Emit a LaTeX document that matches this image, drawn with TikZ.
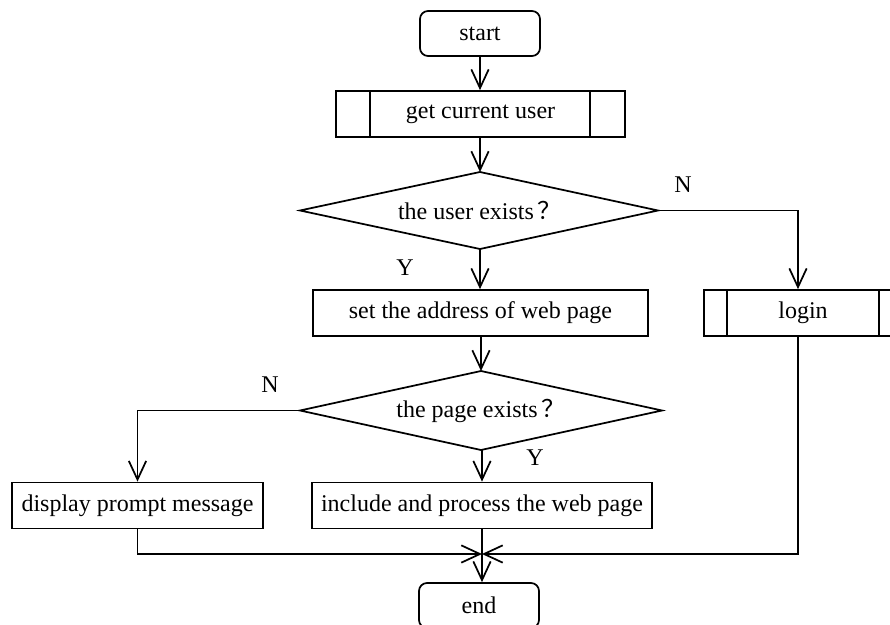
\documentclass[tikz,border=0pt]{standalone}
\usepackage{fontspec}
\setmainfont{Liberation Serif}
\newfontfamily\cjkq{Noto Sans CJK SC}
\usetikzlibrary{arrows.meta,calc}
\newcommand{\fq}{\kern3pt{\cjkq ？}}
\begin{document}
\begin{tikzpicture}[x=0.75pt,y=-0.75pt,
  every node/.style={font=\fontsize{18}{22}\selectfont},
  box/.style={draw,line width=1.3pt,rectangle,inner sep=0pt},
  term/.style={box,rounded corners=6pt,minimum width=90pt,minimum height=33.75pt},
  lbl/.style={inner sep=0pt},
  arr/.style={line width=1.3pt,-{Straight Barb[length=14pt,width=13pt,line width=1.3pt]}},
  ln/.style={line width=1.3pt}]
\useasboundingbox (0,0) rectangle (890,625);
\clip (0,0) rectangle (890,625);
% nodes
\node[term] (start) at (480,33.5) {start};
\node[box,minimum width=216.75pt,minimum height=34.5pt] (getuser) at (480.5,114) {get current user};
\node[inner sep=0pt] (d1) at (480,210.5) {the user exists\fq};
\node[box,minimum width=251.25pt,minimum height=34.5pt] (setaddr) at (480.5,313) {set the address of web page};
\node[box,minimum width=148.5pt,minimum height=34.5pt] (login) at (803,313) {login};
\node[inner sep=0pt] (d2) at (481,410.5) {the page exists\fq};
\node[box,minimum width=188.25pt,minimum height=34.5pt] (display) at (137.5,505.5) {display prompt message};
\node[box,minimum width=255pt,minimum height=34.5pt] (include) at (482,505.5) {include and process the web page};
\node[term] (end) at (479,605.5) {end};
% diamond corners
\coordinate (d1n) at (480,172);
\coordinate (d1s) at (480,249);
\coordinate (d1w) at (300,210.5);
\coordinate (d1e) at (658,210.5);
\coordinate (d2n) at (481,371);
\coordinate (d2s) at (481,450);
\coordinate (d2w) at (300,410.5);
\coordinate (d2e) at (662,410.5);
\draw[ln,line join=miter] (d1n) -- (d1e) -- (d1s) -- (d1w) -- cycle;
\draw[ln,line join=miter] (d2n) -- (d2e) -- (d2s) -- (d2w) -- cycle;
% labels
\node[lbl] (n1) at (683,185) {N};
\node[lbl] (y1) at (405,268) {Y};
\node[lbl] (n2) at (270,385) {N};
\node[lbl] (y2) at (535,458) {Y};
% subroutine inner lines
\draw[ln] ($(getuser.north west)+(35,0)$) -- ($(getuser.south west)+(35,0)$);
\draw[ln] ($(getuser.north east)+(-36,0)$) -- ($(getuser.south east)+(-36,0)$);
\draw[ln] ($(login.north west)+(24,0)$) -- ($(login.south west)+(24,0)$);
\draw[ln] ($(login.north east)+(-24,0)$) -- ($(login.south east)+(-24,0)$);
% coordinates
\coordinate (t1) at (798,210.5);
\coordinate (t2) at (137.5,410.5);
\coordinate (m) at (482,554);
% connectors
\draw[arr] (start.south) -- (start.south |- getuser.north);
\draw[arr] (getuser.south -| d1n) -- (d1n);
\draw[arr] (d1s) -- (d1s |- setaddr.north);
\draw[arr] (d1e) -- (t1) -- (t1 |- login.north);
\draw[arr] (setaddr.south -| d2n) -- (d2n);
\draw[arr] (d2w) -- (t2) -- (display.north);
\draw[arr] (d2s -| include.north) -- (include.north);
\draw[arr] (include.south) -- (include.south |- end.north);
\draw[arr] (display.south) |- (m);
\draw[arr] (t1 |- login.south) |- (m);
\end{tikzpicture}
\end{document}
